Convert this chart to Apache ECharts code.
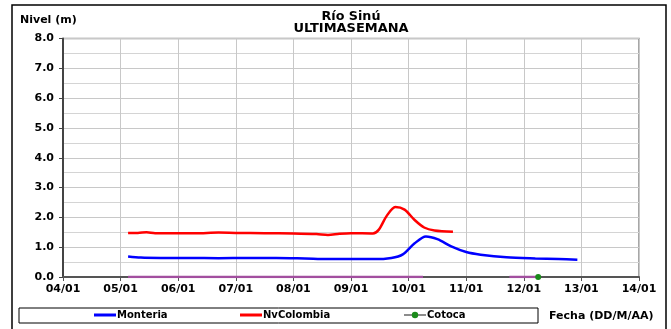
<!DOCTYPE html>
<html>
<head>
<meta charset="utf-8">
<script src="https://cdn.jsdelivr.net/npm/echarts@6/dist/echarts.min.js"></script>
<style>
  html, body { margin: 0; padding: 0; background: #fff; }
  #chart { width: 671px; height: 329px; }
</style>
</head>
<body>
<div id="chart"></div>
<script>
// Day-of-January ticks shown along the time axis
const dayTicks = [4, 5, 6, 7, 8, 9, 10, 11, 12, 13, 14];
const levelTicks = [0, 1, 2, 3, 4, 5, 6, 7, 8];

// Water level (m) readings: [day, level]
const monteria = [
  [5.13, 0.69], [5.35, 0.65], [5.7, 0.64], [6.2, 0.64], [6.7, 0.63], [7.2, 0.64],
  [7.7, 0.64], [8.2, 0.62], [8.6, 0.60], [9.0, 0.60], [9.4, 0.60], [9.7, 0.64],
  [9.9, 0.76], [10.1, 1.12], [10.3, 1.36], [10.5, 1.27], [10.74, 1.03], [11.0, 0.84],
  [11.25, 0.75], [11.7, 0.66], [12.2, 0.62], [12.6, 0.60], [12.93, 0.58]
];
const nvColombia = [
  [5.13, 1.48], [5.3, 1.48], [5.45, 1.50], [5.6, 1.47], [6.0, 1.47], [6.3, 1.47],
  [6.7, 1.49], [7.0, 1.48], [7.5, 1.47], [8.0, 1.46], [8.4, 1.44], [8.6, 1.41],
  [8.8, 1.45], [9.0, 1.47], [9.38, 1.46], [9.48, 1.58], [9.62, 2.05], [9.77, 2.35],
  [9.93, 2.26], [10.1, 1.92], [10.27, 1.66], [10.45, 1.56], [10.77, 1.52]
];
const cotoca = [[12.25, 0.0]];
const zeroRecords = [
  [5.13, 0.0], [10.25, 0.0], null, [11.75, 0.0], [12.22, 0.0]
];

const pad = v => (v < 10 ? '0' : '') + v;
const FONT = 'DejaVu Sans, Verdana, sans-serif';
const boldText = { fontFamily: FONT, fontWeight: 'bold', color: '#000' };
const boldFont = 'bold 11px ' + FONT;
const titleFont = 'bold 12px ' + FONT;

const chart = echarts.init(document.getElementById('chart'), null, { renderer: 'canvas' });

const legendBase = {
  top: 310,
  itemWidth: 22,
  itemHeight: 8,
  itemGap: 2,
  padding: 0,
  textStyle: Object.assign({ fontSize: 10, padding: [0, 0, 0, -4] }, boldText)
};

chart.setOption({
  animation: false,
  backgroundColor: '#fff',
  grid: { left: 63, right: 32, top: 38.5, bottom: 52 },
  xAxis: {
    type: 'value',
    min: dayTicks[0],
    max: dayTicks[dayTicks.length - 1],
    interval: 1,
    axisLine: { show: true, onZero: false, lineStyle: { color: '#555', width: 2 } },
    axisTick: { show: true, length: 4, lineStyle: { color: '#555' } },
    axisLabel: Object.assign({ fontSize: 11, margin: 7, formatter: v => pad(v) + '/01' }, boldText),
    splitLine: { show: true, lineStyle: { color: '#c8c8c8', width: 1 } }
  },
  yAxis: {
    type: 'value',
    min: levelTicks[0],
    max: levelTicks[levelTicks.length - 1],
    interval: 1,
    axisLine: { show: true, lineStyle: { color: '#444', width: 2 } },
    axisTick: { show: true, length: 4, lineStyle: { color: '#444' } },
    axisLabel: Object.assign({ fontSize: 11, margin: 9, formatter: v => v.toFixed(1) }, boldText),
    splitLine: { show: true, lineStyle: { color: '#c8c8c8', width: 1 } },
    minorTick: { show: false, splitNumber: 2 },
    minorSplitLine: { show: true, lineStyle: { color: '#d4d4d4', width: 1 } }
  },
  legend: [
    Object.assign({}, legendBase, { left: 94, itemHeight: 3, data: [{ name: 'Monteria', icon: 'rect' }] }),
    Object.assign({}, legendBase, { left: 240, itemHeight: 3, data: [{ name: 'NvColombia', icon: 'rect' }] }),
    Object.assign({}, legendBase, { left: 403, data: ['Cotoca'] })
  ],
  series: [
    {
      name: 'Registro', type: 'line', data: zeroRecords, connectNulls: false,
      symbol: 'none', lineStyle: { color: '#a24f9f', width: 2.5 }, itemStyle: { color: '#a24f9f' }, z: 6
    },
    {
      name: 'Monteria', type: 'line', data: monteria, smooth: 0.3,
      symbol: 'none', lineStyle: { color: '#0000ff', width: 2.5 }, itemStyle: { color: '#0000ff' }, z: 4
    },
    {
      name: 'NvColombia', type: 'line', data: nvColombia, smooth: 0.3,
      symbol: 'none', lineStyle: { color: '#ff0000', width: 2.5 }, itemStyle: { color: '#ff0000' }, z: 4
    },
    {
      name: 'Cotoca', type: 'line', data: cotoca,
      symbol: 'circle', symbolSize: 6, showSymbol: true,
      lineStyle: { color: '#8c8c8c', width: 2 }, itemStyle: { color: '#1a8a1a' }, z: 7
    }
  ],
  graphic: [
    { type: 'rect', shape: { x: 12, y: 5, width: 654, height: 340 }, style: { fill: 'none', stroke: '#000', lineWidth: 1.5 }, silent: true },
    { type: 'polyline', shape: { points: [[63, 38.5], [639, 38.5], [639, 277]] }, style: { fill: 'none', stroke: '#8a8a8a', lineWidth: 1.5 }, silent: true, z: -1 },
    { type: 'rect', shape: { x: 19, y: 308, width: 519, height: 15 }, style: { fill: 'none', stroke: '#000', lineWidth: 1 }, silent: true },
    { type: 'text', x: 20, y: 20, style: { text: 'Nivel (m)', textAlign: 'left', textVerticalAlign: 'middle', fill: '#000', font: boldFont } },
    { type: 'text', x: 351, y: 17, scaleX: 1.06, style: { text: 'Río Sinú', textAlign: 'center', textVerticalAlign: 'middle', fill: '#000', font: titleFont } },
    { type: 'text', x: 351, y: 29, scaleX: 1.08, style: { text: 'ULTIMASEMANA', textAlign: 'center', textVerticalAlign: 'middle', fill: '#000', font: titleFont } },
    { type: 'text', x: 549, y: 316, style: { text: 'Fecha (DD/M/AA)', textAlign: 'left', textVerticalAlign: 'middle', fill: '#000', font: boldFont } }
  ]
});
</script>
</body>
</html>
